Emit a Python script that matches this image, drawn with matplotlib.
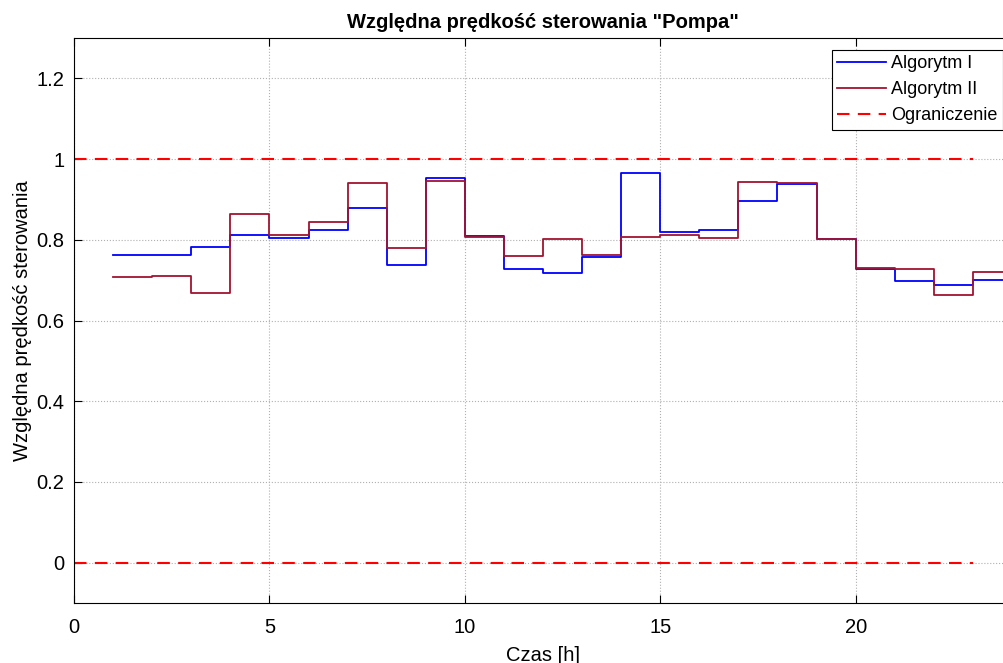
import numpy as np
import matplotlib.pyplot as plt

# dane (godziny 1..23, schodki "post")
hours = [1, 2, 3, 4, 5, 6, 7, 8, 9, 10, 11, 12, 13, 14, 15, 16, 17, 18, 19, 20, 21, 22, 23, 24]
alg1 = [0.762, 0.762, 0.783, 0.811, 0.804, 0.825, 0.880, 0.738, 0.954, 0.809, 0.728, 0.717,
        0.758, 0.965, 0.819, 0.825, 0.896, 0.937, 0.802, 0.728, 0.698, 0.689, 0.701, 0.701]
alg2 = [0.708, 0.711, 0.667, 0.863, 0.811, 0.844, 0.941, 0.779, 0.946, 0.806, 0.761, 0.801,
        0.762, 0.807, 0.812, 0.804, 0.944, 0.940, 0.802, 0.730, 0.728, 0.662, 0.721, 0.721]
limit_x = [0, 23]
limit_upper = [1, 1]
limit_lower = [0, 0]

plt.rcParams["font.family"] = ["Liberation Sans", "DejaVu Sans"]

W, H = 1004, 663
fig = plt.figure(figsize=(W / 100, H / 100), dpi=100)
# os X 0..24 wychodzi nieco poza prawą krawędź obrazka (jak w oryginale)
ax = fig.add_axes([74 / W, 1 - 603 / H, (1012 - 74) / W, (603 - 38) / H])

ax.step(hours, alg1, where="post", color=(0, 0, 1), lw=1.3, label="Algorytm I")
ax.step(hours, alg2, where="post", color=(0.635, 0.078, 0.184), lw=1.3, label="Algorytm II")
ax.plot(limit_x, limit_upper, "--", color=(1, 0, 0), lw=1.5, dashes=(6, 4), label="Ograniczenie")
ax.plot(limit_x, limit_lower, "--", color=(1, 0, 0), lw=1.5, dashes=(6, 4))

ax.set_xlim(0, 24)
ax.set_ylim(-0.1, 1.3)
ax.set_xticks([0, 5, 10, 15, 20])
ax.set_yticks([0, 0.2, 0.4, 0.6, 0.8, 1.0, 1.2])
ax.set_yticklabels(["0", "0.2", "0.4", "0.6", "0.8", "1", "1.2"])
ax.tick_params(direction="in", labelsize=14.5, length=6, top=True, right=True)
ax.tick_params(axis="x", pad=11)
ax.tick_params(axis="y", pad=7)
ax.grid(True, color="#b0b0b0", linestyle=":", linewidth=0.8)

ax.set_title('Względna prędkość sterowania "Pompa"', fontsize=14.5, fontweight="bold", pad=7)
ax.set_xlabel("Czas [h]", fontsize=14.5, labelpad=6)
ax.set_ylabel("Względna prędkość sterowania", fontsize=14.5, labelpad=3)

leg = ax.legend(loc="upper right", bbox_to_anchor=(1003 / W, 1 - 50 / H),
                bbox_transform=fig.transFigure, borderaxespad=0,
                fontsize=13, fancybox=False, edgecolor="black", framealpha=1,
                handlelength=2.7, handletextpad=0.3, labelspacing=0.5, borderpad=0.3)
leg.get_frame().set_linewidth(0.8)

fig.savefig("out.png", dpi=100)
